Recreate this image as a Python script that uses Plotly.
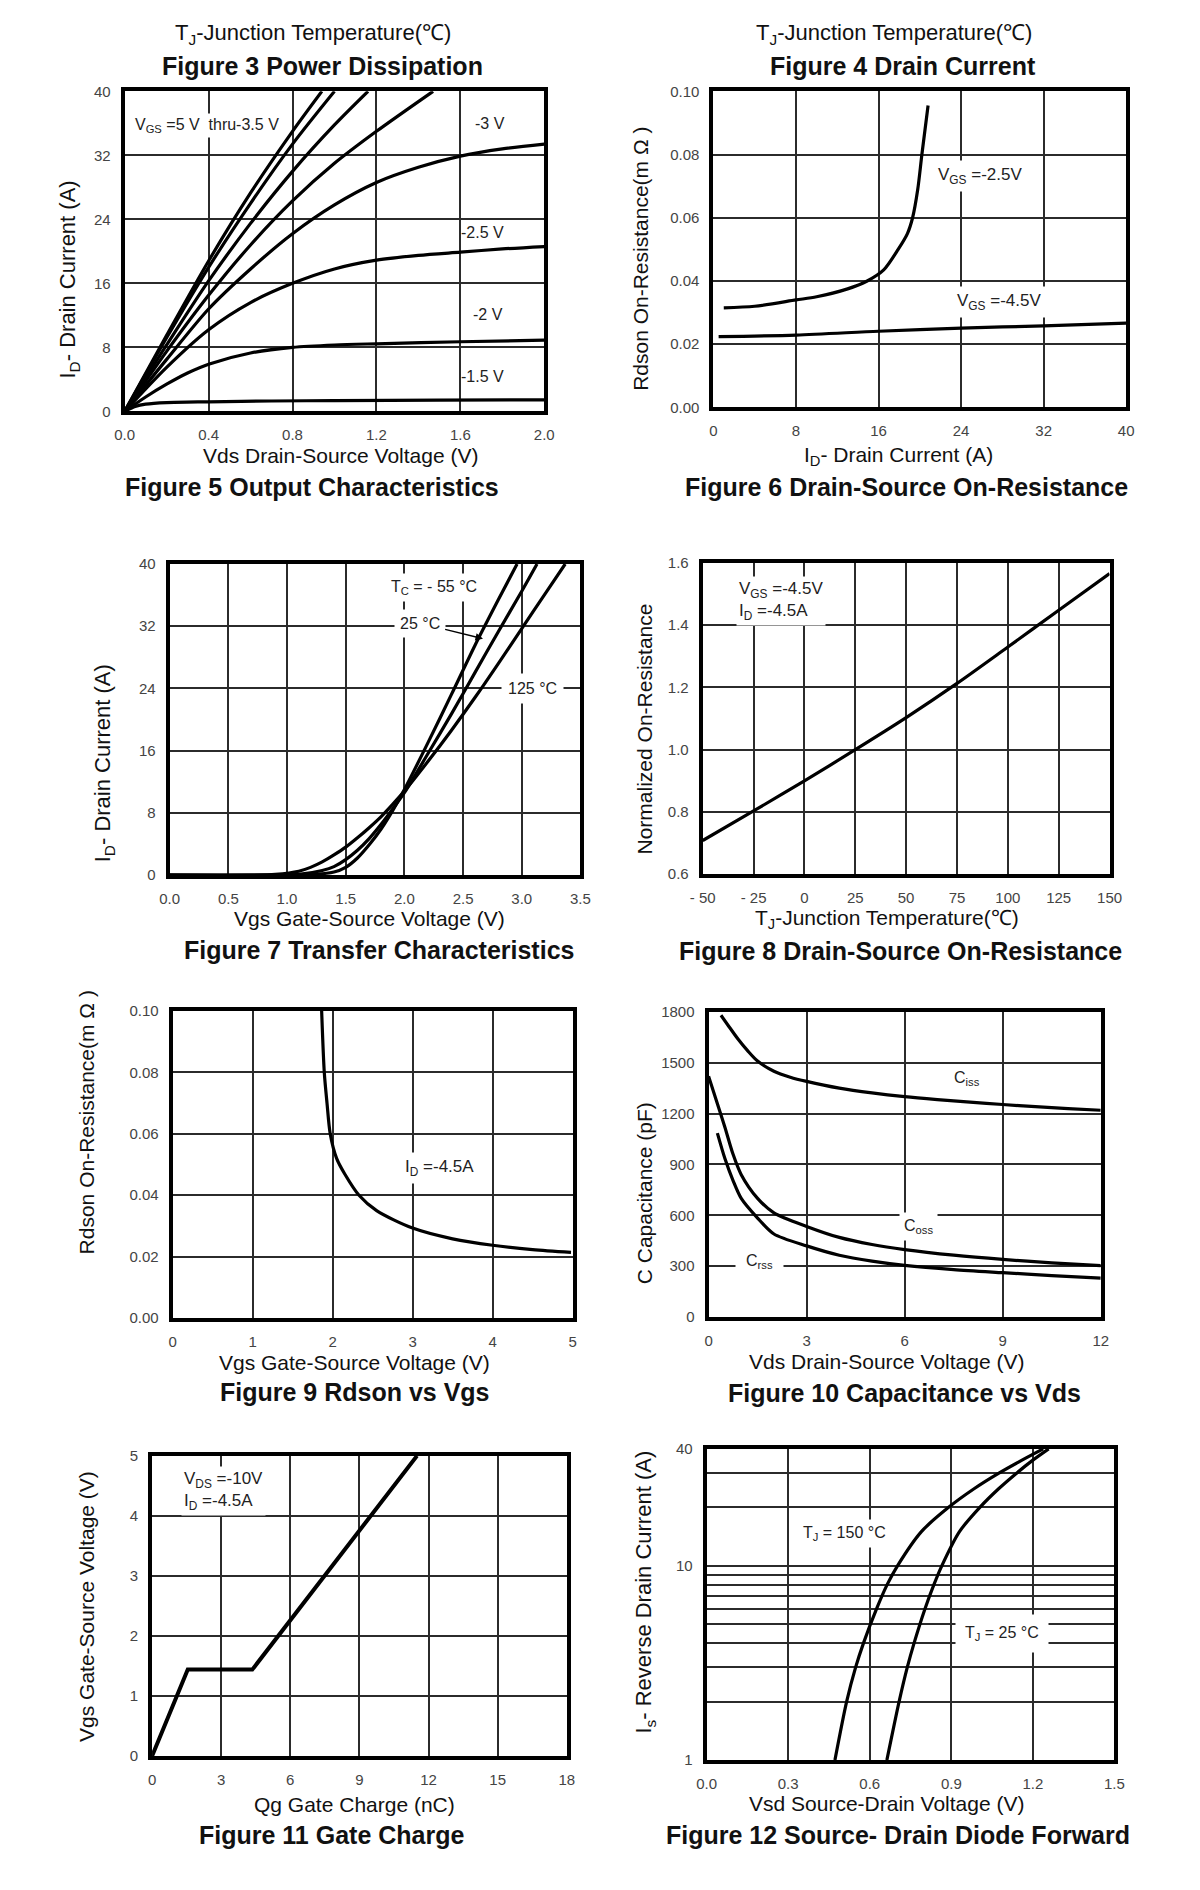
import plotly.graph_objects as go

# page is 1200x1890; the html body keeps its default 8px margin,
# so the figure is made 16px smaller and every position is shifted by 8px
PAGE_W, PAGE_H, PAD = 1200, 1890, 8
W, H = PAGE_W - 2 * PAD, PAGE_H - 2 * PAD

# ---- Figure 5: output characteristics (Vds vs Id, one curve per Vgs)
out_vds_15 = [0, 0.05, 0.1, 0.2, 0.4, 0.7, 1.0, 1.5, 2.0]
out_id_15 = [0, 0.6, 0.9, 1.1, 1.2, 1.3, 1.35, 1.4, 1.45]
out_vds_20 = [0, 0.1, 0.2, 0.3, 0.4, 0.6, 0.8, 1.0, 1.2, 1.6, 2.0]
out_id_20 = [0, 1.8, 3.4, 4.8, 5.9, 7.3, 8.0, 8.3, 8.45, 8.7, 8.9]
out_vds_25 = [0, 0.2, 0.4, 0.6, 0.8, 1.0, 1.2, 1.4, 1.6, 1.8, 2.0]
out_id_25 = [0, 5.5, 10.2, 13.6, 16.0, 17.8, 18.9, 19.5, 19.9, 20.3, 20.6]
out_vds_30 = [0, 0.2, 0.4, 0.6, 0.8, 1.0, 1.2, 1.4, 1.6, 1.8, 2.0]
out_id_30 = [0, 6.5, 12.8, 17.8, 22.2, 25.8, 28.6, 30.5, 31.9, 32.8, 33.4]
out_vds_35 = [0, 0.2, 0.4, 0.6, 0.8, 1.0, 1.2, 1.47]
out_id_35 = [0, 7.5, 14.5, 20.8, 26.3, 31.0, 35.0, 40]
out_vds_40 = [0, 0.2, 0.4, 0.6, 0.8, 1.0, 1.16]
out_id_40 = [0, 8.3, 16.3, 23.5, 30.0, 35.8, 40]
out_vds_45 = [0, 0.2, 0.4, 0.6, 0.8, 1.0]
out_id_45 = [0, 9.2, 18.0, 26.0, 33.4, 40]
out_vds_50 = [0, 0.2, 0.4, 0.6, 0.8, 0.94]
out_id_50 = [0, 9.5, 18.8, 27.3, 35.0, 40]

# ---- Figure 6: Rdson vs Id
rds_id_25 = [1.0, 4.0, 8.0, 10.0, 13.0, 14.9, 16.5, 17.9, 18.8, 19.3, 19.8, 20.2, 20.8]
rds_25 = [0.0315, 0.032, 0.034, 0.035, 0.0375, 0.040, 0.0435, 0.050, 0.055,
          0.060, 0.069, 0.080, 0.0955]
rds_id_45 = [0.5, 8, 16, 24, 32, 40]
rds_45 = [0.0224, 0.0229, 0.0241, 0.0251, 0.0258, 0.0267]

# ---- Figure 7: transfer characteristics
tr_vgs_m55 = [0.0, 1.0, 1.2, 1.4, 1.5, 1.6, 1.7, 1.8, 1.9, 2.0, 2.2, 2.4, 2.6, 2.8, 2.96]
tr_id_m55 = [0, 0, 0.05, 0.4, 1.0, 2.2, 3.9, 5.9, 8.3, 11.0, 17.0, 23.2, 29.5, 35.4, 40]
tr_vgs_25 = [0.0, 0.9, 1.1, 1.3, 1.4, 1.5, 1.6, 1.7, 1.8, 1.9, 2.0, 2.2, 2.4, 2.6, 2.8, 3.0, 3.13]
tr_id_25 = [0, 0, 0.1, 0.6, 1.1, 2.0, 3.2, 4.7, 6.5, 8.5, 10.6, 15.6, 20.7, 26.0, 31.3, 36.5, 40]
tr_vgs_125 = [0.0, 0.7, 0.9, 1.1, 1.2, 1.3, 1.4, 1.5, 1.6, 1.7, 1.8, 1.9, 2.0, 2.2, 2.4,
              2.6, 2.8, 3.0, 3.2, 3.37]
tr_id_125 = [0, 0, 0.1, 0.5, 1.0, 1.7, 2.6, 3.6, 4.8, 6.1, 7.5, 9.1, 10.8, 14.6, 18.6,
             22.8, 27.2, 31.7, 36.2, 40]

# ---- Figure 8: normalized on-resistance vs Tj
tj = [-50, -25, 0, 25, 50, 75, 100, 125, 150]
r_norm = [0.708, 0.803, 0.900, 1.000, 1.103, 1.213, 1.330, 1.448, 1.566]

# ---- Figure 9: Rdson vs Vgs
vgs9 = [1.863, 1.896, 1.93, 1.97, 2.05, 2.15, 2.33, 2.55, 3.0, 3.5, 4.0, 4.5, 4.98]
rds9 = [0.100, 0.080, 0.070, 0.060, 0.052, 0.047, 0.040, 0.035, 0.0293, 0.0258,
        0.0237, 0.0223, 0.0214]

# ---- Figure 10: capacitance vs Vds
ciss_v = [0.38, 0.6, 0.9, 1.2, 1.5, 2.0, 2.5, 3.0, 4.0, 5.0, 6.0, 7.0, 8.0, 9.0, 10.0, 11.0, 12.0]
ciss = [1780, 1720, 1640, 1570, 1510, 1450, 1415, 1390, 1350, 1322, 1300, 1283, 1268,
        1254, 1241, 1230, 1220]
coss_v = [0.0, 0.15, 0.3, 0.5, 0.75, 1.0, 1.5, 2.0, 3.0, 4.0, 5.0, 6.0, 7.5, 9.0, 10.5, 12.0]
coss = [1420, 1330, 1240, 1120, 960, 840, 700, 615, 535, 470, 428, 398, 365, 340, 320, 303]
crss_v = [0.27, 0.5, 0.75, 1.0, 1.5, 2.0, 3.0, 4.0, 5.0, 6.0, 7.5, 9.0, 10.5, 12.0]
crss = [1085, 935, 805, 700, 584, 490, 420, 365, 330, 305, 280, 262, 245, 230]

# ---- Figure 11: gate charge
qg = [0, 1.55, 4.35, 11.5]
vgs11 = [0, 1.44, 1.44, 5.0]

# ---- Figure 12: source-drain diode forward
vsd_150 = [0.472, 0.515, 0.548, 0.577, 0.625, 0.664, 0.702, 0.790, 0.890, 0.985,
           1.075, 1.160, 1.238]
is_150 = [1, 2, 3, 4, 6, 8, 10, 15, 20, 25, 30, 35, 40]
vsd_25 = [0.663, 0.708, 0.738, 0.763, 0.803, 0.836, 0.865, 0.930, 1.005, 1.075,
          1.140, 1.200, 1.258]
is_25 = [1, 2, 3, 4, 6, 8, 10, 15, 20, 25, 30, 35, 40]

FONT = "Liberation Sans, Arial, sans-serif"


def dom_x(l, r):
    return [(l - PAD) / W, (r - PAD) / W]


def dom_y(t, b):
    return [1 - (b - PAD) / H, 1 - (t - PAD) / H]


def axis(domain, rng, vals, text, anchor, log=False, standoff=7):
    ax = dict(domain=domain, range=rng, tickvals=vals, ticktext=text, anchor=anchor,
              showgrid=True, gridcolor="#2b2b2b", gridwidth=1.6,
              showline=True, mirror=True, linecolor="black", linewidth=4,
              ticks="", zeroline=False, fixedrange=True, ticklabelstandoff=standoff,
              tickfont=dict(size=15, color="#444", family=FONT))
    if log:
        ax["type"] = "log"
    return ax


def txt(text, x, y, size=21, bold=False, angle=0):
    return dict(text="<b>%s</b>" % text if bold else text,
                x=(x - PAD) / W, y=1 - (y - PAD) / H,
                xref="paper", yref="paper", showarrow=False, textangle=angle,
                xanchor="center", yanchor="middle",
                font=dict(size=size, color="#111", family=FONT))


def label(text, x, y, n, size=16, bg=None, pad=4, anchor="center", align="center"):
    a = dict(text=text, x=x, y=y, xref="x%d" % n, yref="y%d" % n, showarrow=False,
             xanchor=anchor, yanchor="middle", align=align,
             font=dict(size=size, color="#222", family=FONT))
    if bg:
        a["bgcolor"] = bg
        a["borderpad"] = pad
    return a


fig = go.Figure()
line = dict(color="black", width=3.2, shape="spline", smoothing=0.8)

curves = [
    (1, out_vds_15, out_id_15), (1, out_vds_20, out_id_20), (1, out_vds_25, out_id_25),
    (1, out_vds_30, out_id_30), (1, out_vds_35, out_id_35), (1, out_vds_40, out_id_40),
    (1, out_vds_45, out_id_45), (1, out_vds_50, out_id_50),
    (2, rds_id_25, rds_25), (2, rds_id_45, rds_45),
    (3, tr_vgs_m55, tr_id_m55), (3, tr_vgs_25, tr_id_25), (3, tr_vgs_125, tr_id_125),
    (4, tj, r_norm),
    (5, vgs9, rds9),
    (6, ciss_v, ciss), (6, coss_v, coss), (6, crss_v, crss),
    (8, vsd_150, is_150), (8, vsd_25, is_25),
]
for n, xs, ys in curves:
    fig.add_trace(go.Scatter(x=xs, y=ys, mode="lines", line=line,
                             xaxis="x%d" % n, yaxis="y%d" % n))
fig.add_trace(go.Scatter(x=qg, y=vgs11, mode="lines",
                         line=dict(color="black", width=4), xaxis="x7", yaxis="y7"))


def fmt(vals, f):
    return [f % v for v in vals]


x5 = [0, 0.4, 0.8, 1.2, 1.6, 2.0]
y40 = [0, 8, 16, 24, 32, 40]
y010 = [0, 0.02, 0.04, 0.06, 0.08, 0.10]
x7 = [0, 0.5, 1.0, 1.5, 2.0, 2.5, 3.0, 3.5]
x8 = [-50, -25, 0, 25, 50, 75, 100, 125, 150]
x8_text = ["- 50", "- 25", "0", "25", "50", "75", "100", "125", "150"]
y8 = [0.6, 0.8, 1.0, 1.2, 1.4, 1.6]
x9 = [0, 1, 2, 3, 4, 5]
x10 = [0, 3, 6, 9, 12]
y10 = [0, 300, 600, 900, 1200, 1500, 1800]
x11 = [0, 3, 6, 9, 12, 15, 18]
y11 = [0, 1, 2, 3, 4, 5]
x12 = [0, 0.3, 0.6, 0.9, 1.2, 1.5]
y12 = [1, 2, 3, 4, 5, 6, 7, 8, 9, 10, 20, 30, 40]
y12_text = ["1", "", "", "", "", "", "", "", "", "10", "", "", "40"]

layout = dict(
    width=W, height=H, margin=dict(l=0, r=0, t=0, b=0), showlegend=False,
    paper_bgcolor="white", plot_bgcolor="white", font=dict(family=FONT),
    xaxis1=axis(dom_x(114, 543), [0, 2], x5, fmt(x5, "%.1f"), "y1"),
    yaxis1=axis(dom_y(83, 406), [0, 40], y40, fmt(y40, "%d"), "x1"),
    xaxis2=axis(dom_x(716, 1138), [0, 40], y40, fmt(y40, "%d"), "y2"),
    yaxis2=axis(dom_y(83, 402), [0, 0.1], y010, fmt(y010, "%.2f"), "x2"),
    xaxis3=axis(dom_x(160, 580), [0, 3.5], x7, fmt(x7, "%.1f"), "y3"),
    yaxis3=axis(dom_y(560, 874), [0, 40], y40, fmt(y40, "%d"), "x3"),
    xaxis4=axis(dom_x(705, 1121), [-50, 150], x8, x8_text, "y4"),
    yaxis4=axis(dom_y(559, 873), [0.6, 1.6], y8, fmt(y8, "%.1f"), "x4"),
    xaxis5=axis(dom_x(163, 572), [0, 5], x9, fmt(x9, "%d"), "y5"),
    yaxis5=axis(dom_y(1011, 1321), [0, 0.1], y010, fmt(y010, "%.2f"), "x5"),
    xaxis6=axis(dom_x(711, 1112), [0, 12], x10, fmt(x10, "%d"), "y6"),
    yaxis6=axis(dom_y(1012, 1320), [0, 1800], y10, fmt(y10, "%d"), "x6"),
    xaxis7=axis(dom_x(142, 566), [0, 18], x11, fmt(x11, "%d"), "y7"),
    yaxis7=axis(dom_y(1460, 1763), [0, 5], y11, fmt(y11, "%d"), "x7"),
    xaxis8=axis(dom_x(709, 1126), [0, 1.5], x12, fmt(x12, "%.1f"), "y8"),
    yaxis8=axis(dom_y(1453, 1767), [0, 1.60206], y12, y12_text, "x8", log=True),
)

tjt = "T<sub>J</sub>-Junction Temperature(℃)"
rdson = "Rdson On-Resistance(m Ω )"
ann = [
    # row 1
    txt(tjt, 307, 25, 22), txt(tjt, 901, 25, 22),
    txt("Figure 3 Power Dissipation", 316, 57, 25, True),
    txt("Figure 4 Drain Current", 910, 57, 25, True),
    txt("Vds Drain-Source Voltage (V)", 335, 451),
    txt("I<sub>D</sub>- Drain Current (A)", 57, 273, 22, angle=-90),
    txt("Figure 5 Output Characteristics", 306, 482, 25, True),
    txt("I<sub>D</sub>- Drain Current (A)", 905, 451),
    txt(rdson, 642, 252, angle=-90),
    txt("Figure 6 Drain-Source On-Resistance", 913, 482, 25, True),
    # row 2
    txt("I<sub>D</sub>- Drain Current (A)", 93, 761, 22, angle=-90),
    txt("Vgs Gate-Source Voltage (V)", 364, 918),
    txt("Figure 7 Transfer Characteristics", 374, 950, 25, True),
    txt("Normalized On-Resistance", 645, 727, angle=-90),
    txt(tjt, 893, 918),
    txt("Figure 8 Drain-Source On-Resistance", 907, 951, 25, True),
    # row 3
    txt(rdson, 75, 1124, angle=-90),
    txt("Vgs Gate-Source Voltage (V)", 349, 1366),
    txt("Figure 9 Rdson vs Vgs", 349, 1396, 25, True),
    txt("C Capacitance (pF)", 645, 1195, angle=-90),
    txt("Vds Drain-Source Voltage (V)", 893, 1365),
    txt("Figure 10 Capacitance vs Vds", 911, 1397, 25, True),
    # row 4
    txt("Vgs Gate-Source Voltage (V)", 75, 1612, angle=-90),
    txt("Qg Gate Charge (nC)", 349, 1812),
    txt("Figure 11 Gate Charge", 325, 1843, 25, True),
    txt("I<sub>s</sub>- Reverse Drain Current (A)", 646, 1597, 22, angle=-90),
    txt("Vsd Source-Drain Voltage (V)", 893, 1811),
    txt("Figure 12 Source- Drain Diode Forward", 905, 1843, 25, True),
    # in-plot labels
    label("V<sub>GS</sub> =5 V  thru-3.5 V", 0.035, 35.7, 1, bg="white", pad=2,
          anchor="left"),
    label("-3 V", 1.742, 36.0, 1),
    label("-2.5 V", 1.706, 22.4, 1),
    label("-2 V", 1.733, 12.1, 1),
    label("-1.5 V", 1.706, 4.4, 1),
    label("V<sub>GS</sub> =-2.5V", 25.8, 0.0731, 2, size=17, bg="white"),
    label("V<sub>GS</sub> =-4.5V", 27.7, 0.0335, 2, size=17, bg="white"),
    label("T<sub>C</sub> = - 55 °C", 2.256, 37.0, 3, bg="white"),
    label("125 °C", 3.095, 24.0, 3, bg="white", pad=6),
    label("V<sub>GS</sub> =-4.5V<br>I<sub>D</sub> =-4.5A", -33.4, 1.478, 4, size=17,
          bg="white", pad=2, anchor="left", align="left"),
    label("I<sub>D</sub> =-4.5A", 3.33, 0.0487, 5, size=17, bg="white"),
    label("C<sub>iss</sub>", 7.92, 1405, 6, size=16),
    label("C<sub>oss</sub>", 6.43, 535, 6, size=16, bg="white"),
    label("C<sub>rss</sub>", 1.56, 327, 6, size=16, bg="white", pad=10),
    label("V<sub>DS</sub> =-10V<br>I<sub>D</sub> =-4.5A", 1.27, 4.41, 7, size=17,
          bg="white", pad=2, anchor="left", align="left"),
    label("T<sub>J</sub> = 150 °C", 0.509, 1.167, 8, size=16, bg="white"),
    label("T<sub>J</sub> = 25 °C", 1.087, 0.653, 8, size=16, bg="white", pad=9),
    dict(text="25 °C", x=2.67, y=30.4, xref="x3", yref="y3", ax=2.13, ay=32.4,
         axref="x3", ayref="y3", showarrow=True, arrowhead=2, arrowsize=1,
         arrowwidth=1.5, arrowcolor="black", bgcolor="white", borderpad=5,
         font=dict(size=16, color="#222", family=FONT)),
]
layout["annotations"] = ann
fig.update_layout(**layout)

fig.write_html("out.html")
